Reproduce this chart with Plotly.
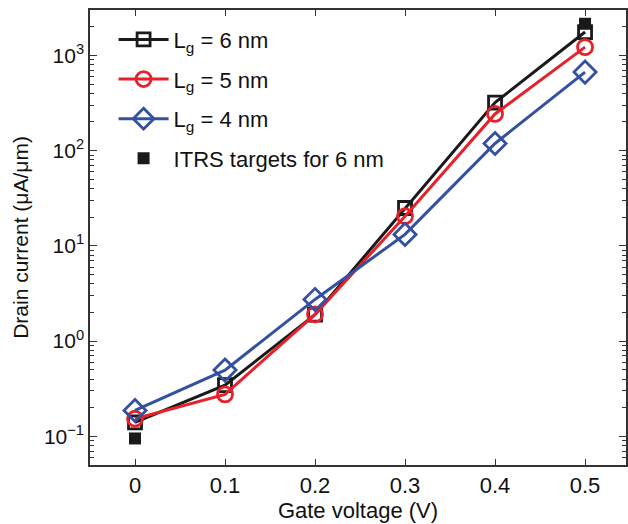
import plotly.graph_objects as go

# Gate voltage sweep (V)
gate_voltage = [0.0, 0.1, 0.2, 0.3, 0.4, 0.5]

# Drain current (uA/um) for each gate length
current_lg6 = [0.14, 0.345, 1.9, 25.0, 320.0, 1760.0]
current_lg5 = [0.153, 0.276, 1.91, 20.5, 243.0, 1222.0]
current_lg4 = [0.187, 0.496, 2.74, 13.2, 119.0, 668.0]

# ITRS targets for the 6 nm device
itrs_voltage = [0.0, 0.5]
itrs_current = [0.095, 2150.0]

y_tick_vals = [0.1, 1, 10, 100, 1000]
y_tick_text = ["10<sup>\u22121</sup>", "10<sup>0</sup>", "10<sup>1</sup>",
               "10<sup>2</sup>", "10<sup>3</sup>"]
x_tick_vals = [0, 0.1, 0.2, 0.3, 0.4, 0.5]
x_tick_text = ["0", "0.1", "0.2", "0.3", "0.4", "0.5"]

FONT = "Liberation Sans, Arial, Helvetica, sans-serif"

# minor log ticks (2..9 in each decade)
minor_vals = [m * 10 ** e for e in range(-2, 4) for m in range(2, 10)]
minor_vals = [v for v in minor_vals if 0.05 <= v <= 3000]

series = [
    ("L<sub>g</sub> = 6 nm", current_lg6, "#1a1a1a", "square-open", 13),
    ("L<sub>g</sub> = 5 nm", current_lg5, "#e8202a", "circle-open", 15),
    ("L<sub>g</sub> = 4 nm", current_lg4, "#3450a0", "diamond-open", 17),
]

fig = go.Figure()
for i, (name, vals, color, symbol, size) in enumerate(series):
    fig.add_trace(go.Scatter(
        x=gate_voltage, y=vals, name=name, mode="lines+markers",
        legendgroup=f"g{i}",
        line=dict(color=color, width=3),
        marker=dict(symbol=symbol, size=size, color=color,
                    line=dict(color=color, width=2.8)),
    ))

fig.add_trace(go.Scatter(
    x=itrs_voltage, y=itrs_current, name="ITRS targets for 6 nm",
    mode="markers", legendgroup="g3",
    marker=dict(symbol="square", size=12, color="#1a1a1a"),
))

axis_common = dict(
    showline=True, linecolor="#333333", linewidth=1.5, mirror="ticks",
    ticks="inside", tickcolor="#333333", tickwidth=1, showgrid=False,
    zeroline=False,
)

fig.update_xaxes(
    range=[-0.05, 0.5455], tickmode="array", tickvals=x_tick_vals,
    ticktext=x_tick_text, ticklen=6,
    tickfont=dict(family=FONT, size=22, color="#111111"),
    title=dict(text="Gate voltage (V)", standoff=1,
               font=dict(family=FONT, size=22, color="#111111")),
    **axis_common,
)
fig.update_yaxes(
    type="log", range=[-1.301, 3.477], tickmode="array",
    tickvals=y_tick_vals, ticktext=y_tick_text, ticklen=7,
    tickfont=dict(family=FONT, size=21, color="#111111"),
    minor=dict(ticks="inside", tickmode="array", tickvals=minor_vals,
               ticklen=4, tickcolor="#333333", tickwidth=1, showgrid=False),
    title=dict(text="Drain current (\u03bcA/\u03bcm)", standoff=10,
               font=dict(family=FONT, size=21, color="#111111")),
    **axis_common,
)

fig.update_layout(
    width=628, height=524,
    margin=dict(l=90, r=0, t=10, b=59),
    paper_bgcolor="white", plot_bgcolor="white",
    font=dict(family=FONT, size=21, color="#111111"),
    showlegend=True,
    legend=dict(
        x=0.044, y=0.981, xanchor="left", yanchor="top",
        bgcolor="rgba(0,0,0,0)", borderwidth=0,
        itemwidth=50, traceorder="grouped", tracegroupgap=8,
        font=dict(family=FONT, size=22, color="#111111"),
    ),
)

fig.write_html("out.html")
